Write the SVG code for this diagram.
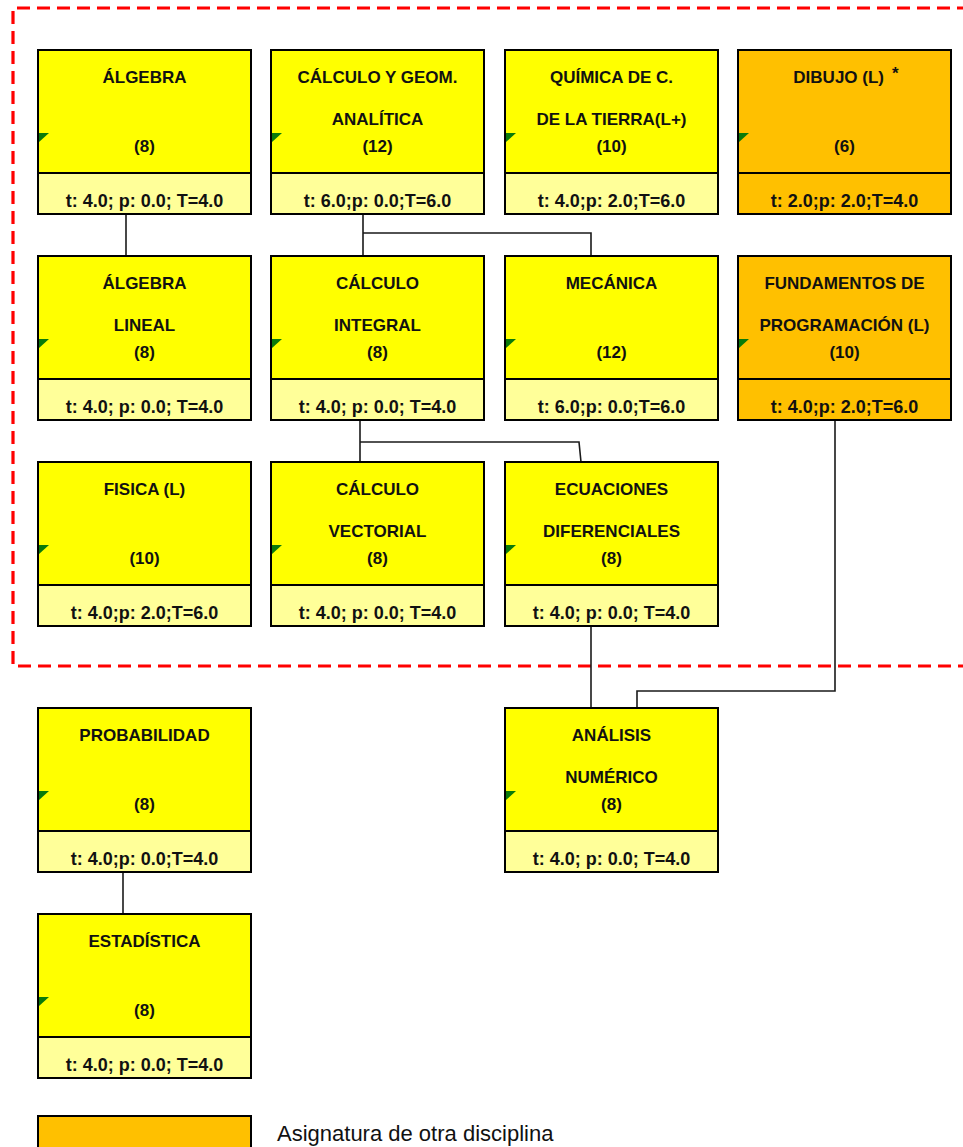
<svg xmlns="http://www.w3.org/2000/svg" width="963" height="1147" viewBox="0 0 963 1147">
<defs>
<style>
.top{fill:#FFFF00;stroke:#000;stroke-width:2}
.topo{fill:#FFC000;stroke:#000;stroke-width:2}
.bot{fill:#FFFF99;stroke:#000;stroke-width:2}
.boto{fill:#FFC000;stroke:#000;stroke-width:2}
.tri{fill:#0A7A0A}
.t{font-family:"Liberation Sans",Arial,sans-serif;font-weight:bold;font-size:17px;fill:#111;text-anchor:middle}
.b{font-family:"Liberation Sans",Arial,sans-serif;font-weight:bold;font-size:18px;fill:#111;text-anchor:middle}
.con{fill:none;stroke:#1a1a1a;stroke-width:1.6}
.leg{font-family:"Liberation Sans",Arial,sans-serif;font-size:22px;fill:#111}
</style>
</defs>
<rect width="963" height="1147" fill="#fff"/>
<path d="M990 8 H13 V666 H990" fill="none" stroke="#FF0000" stroke-width="3.2" stroke-dasharray="13 7"/>

<g id="connectors">
<path class="con" d="M126 214 V256"/>
<path class="con" d="M363 214 V256 M363 233 H591 V256"/>
<path class="con" d="M360 420 V462 M360 442 H579 L581 462"/>
<path class="con" d="M591 626 V708"/>
<path class="con" d="M835 420 V691 H637 V708"/>
<path class="con" d="M123 872 V914"/>
</g>

<g id="algebra">
<rect class="top" x="38" y="50" width="213" height="123"/>
<rect class="bot" x="38" y="173" width="213" height="41"/>
<polygon class="tri" points="39,133 49,133 39,142"/>
<text class="t" x="144.5" y="83">ÁLGEBRA</text>
<text class="t" x="144.5" y="152">(8)</text>
<text class="b" x="144.5" y="207">t: 4.0; p: 0.0; T=4.0</text>
</g>

<g id="calculo-geom">
<rect class="top" x="271" y="50" width="213" height="123"/>
<rect class="bot" x="271" y="173" width="213" height="41"/>
<polygon class="tri" points="272,133 282,133 272,142"/>
<text class="t" x="377.5" y="83">CÁLCULO Y GEOM.</text>
<text class="t" x="377.5" y="125">ANALÍTICA</text>
<text class="t" x="377.5" y="152">(12)</text>
<text class="b" x="377.5" y="207">t: 6.0;p: 0.0;T=6.0</text>
</g>

<g id="quimica">
<rect class="top" x="505" y="50" width="213" height="123"/>
<rect class="bot" x="505" y="173" width="213" height="41"/>
<polygon class="tri" points="506,133 516,133 506,142"/>
<text class="t" x="611.5" y="83">QUÍMICA DE C.</text>
<text class="t" x="611.5" y="125">DE LA TIERRA(L+)</text>
<text class="t" x="611.5" y="152">(10)</text>
<text class="b" x="611.5" y="207">t: 4.0;p: 2.0;T=6.0</text>
</g>

<g id="dibujo">
<rect class="topo" x="738" y="50" width="213" height="123"/>
<rect class="boto" x="738" y="173" width="213" height="41"/>
<polygon class="tri" points="739,133 749,133 739,142"/>
<text class="t" x="846" y="83">DIBUJO (L)<tspan dx="8" dy="-4">*</tspan></text>
<text class="t" x="844.5" y="152">(6)</text>
<text class="b" x="844.5" y="207">t: 2.0;p: 2.0;T=4.0</text>
</g>

<g id="algebra-lineal">
<rect class="top" x="38" y="256" width="213" height="123"/>
<rect class="bot" x="38" y="379" width="213" height="41"/>
<polygon class="tri" points="39,339 49,339 39,348"/>
<text class="t" x="144.5" y="289">ÁLGEBRA</text>
<text class="t" x="144.5" y="331">LINEAL</text>
<text class="t" x="144.5" y="358">(8)</text>
<text class="b" x="144.5" y="413">t: 4.0; p: 0.0; T=4.0</text>
</g>

<g id="calculo-integral">
<rect class="top" x="271" y="256" width="213" height="123"/>
<rect class="bot" x="271" y="379" width="213" height="41"/>
<polygon class="tri" points="272,339 282,339 272,348"/>
<text class="t" x="377.5" y="289">CÁLCULO</text>
<text class="t" x="377.5" y="331">INTEGRAL</text>
<text class="t" x="377.5" y="358">(8)</text>
<text class="b" x="377.5" y="413">t: 4.0; p: 0.0; T=4.0</text>
</g>

<g id="mecanica">
<rect class="top" x="505" y="256" width="213" height="123"/>
<rect class="bot" x="505" y="379" width="213" height="41"/>
<polygon class="tri" points="506,339 516,339 506,348"/>
<text class="t" x="611.5" y="289">MECÁNICA</text>
<text class="t" x="611.5" y="358">(12)</text>
<text class="b" x="611.5" y="413">t: 6.0;p: 0.0;T=6.0</text>
</g>

<g id="fundamentos">
<rect class="topo" x="738" y="256" width="213" height="123"/>
<rect class="boto" x="738" y="379" width="213" height="41"/>
<polygon class="tri" points="739,339 749,339 739,348"/>
<text class="t" x="844.5" y="289">FUNDAMENTOS DE</text>
<text class="t" x="844.5" y="331">PROGRAMACIÓN (L)</text>
<text class="t" x="844.5" y="358">(10)</text>
<text class="b" x="844.5" y="413">t: 4.0;p: 2.0;T=6.0</text>
</g>

<g id="fisica">
<rect class="top" x="38" y="462" width="213" height="123"/>
<rect class="bot" x="38" y="585" width="213" height="41"/>
<polygon class="tri" points="39,545 49,545 39,554"/>
<text class="t" x="144.5" y="495">FISICA (L)</text>
<text class="t" x="144.5" y="564">(10)</text>
<text class="b" x="144.5" y="619">t: 4.0;p: 2.0;T=6.0</text>
</g>

<g id="calculo-vectorial">
<rect class="top" x="271" y="462" width="213" height="123"/>
<rect class="bot" x="271" y="585" width="213" height="41"/>
<polygon class="tri" points="272,545 282,545 272,554"/>
<text class="t" x="377.5" y="495">CÁLCULO</text>
<text class="t" x="377.5" y="537">VECTORIAL</text>
<text class="t" x="377.5" y="564">(8)</text>
<text class="b" x="377.5" y="619">t: 4.0; p: 0.0; T=4.0</text>
</g>

<g id="ecuaciones">
<rect class="top" x="505" y="462" width="213" height="123"/>
<rect class="bot" x="505" y="585" width="213" height="41"/>
<polygon class="tri" points="506,545 516,545 506,554"/>
<text class="t" x="611.5" y="495">ECUACIONES</text>
<text class="t" x="611.5" y="537">DIFERENCIALES</text>
<text class="t" x="611.5" y="564">(8)</text>
<text class="b" x="611.5" y="619">t: 4.0; p: 0.0; T=4.0</text>
</g>

<g id="probabilidad">
<rect class="top" x="38" y="708" width="213" height="123"/>
<rect class="bot" x="38" y="831" width="213" height="41"/>
<polygon class="tri" points="39,791 49,791 39,800"/>
<text class="t" x="144.5" y="741">PROBABILIDAD</text>
<text class="t" x="144.5" y="810">(8)</text>
<text class="b" x="144.5" y="865">t: 4.0;p: 0.0;T=4.0</text>
</g>

<g id="analisis">
<rect class="top" x="505" y="708" width="213" height="123"/>
<rect class="bot" x="505" y="831" width="213" height="41"/>
<polygon class="tri" points="506,791 516,791 506,800"/>
<text class="t" x="611.5" y="741">ANÁLISIS</text>
<text class="t" x="611.5" y="783">NUMÉRICO</text>
<text class="t" x="611.5" y="810">(8)</text>
<text class="b" x="611.5" y="865">t: 4.0; p: 0.0; T=4.0</text>
</g>

<g id="estadistica">
<rect class="top" x="38" y="914" width="213" height="123"/>
<rect class="bot" x="38" y="1037" width="213" height="41"/>
<polygon class="tri" points="39,997 49,997 39,1006"/>
<text class="t" x="144.5" y="947">ESTADÍSTICA</text>
<text class="t" x="144.5" y="1016">(8)</text>
<text class="b" x="144.5" y="1071">t: 4.0; p: 0.0; T=4.0</text>
</g>

<g id="legend">
<rect class="topo" x="38" y="1116" width="213" height="50"/>
<text class="leg" x="277" y="1141">Asignatura de otra disciplina</text>
</g>
</svg>
